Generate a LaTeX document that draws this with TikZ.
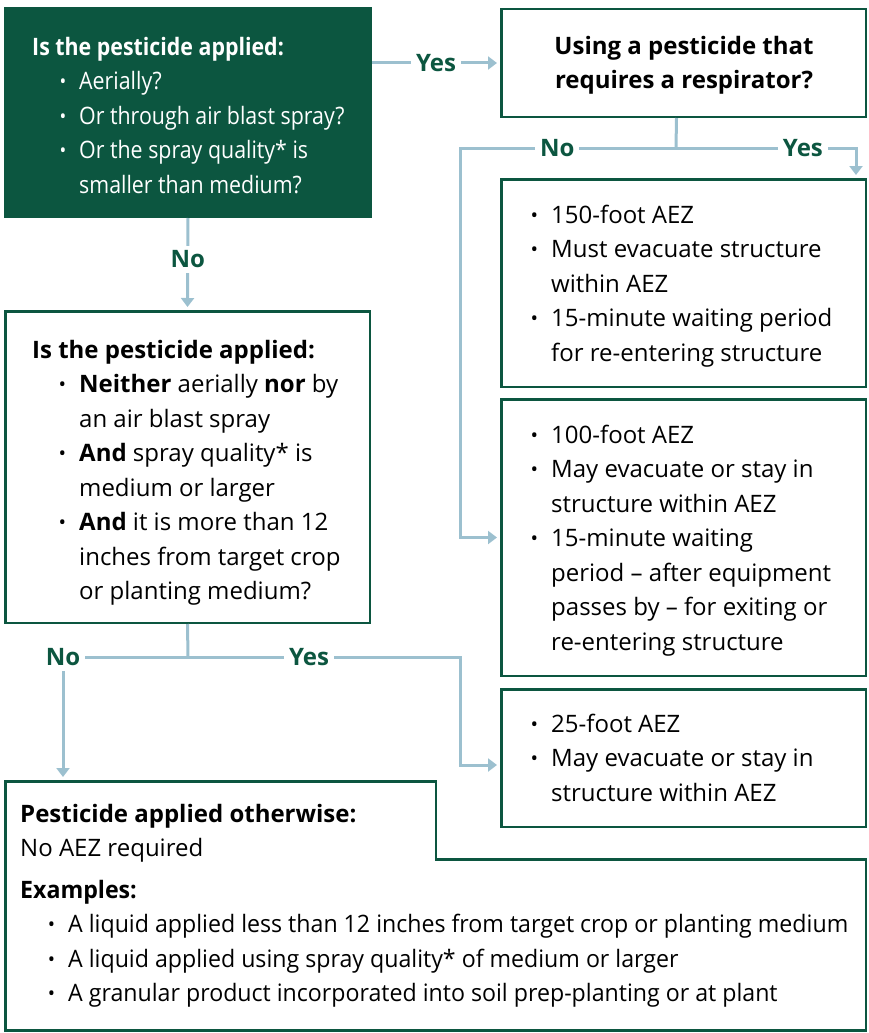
\documentclass[tikz,border=0pt]{standalone}
\usepackage{fontspec}
\setmainfont{Open Sans}
\newfontfamily\condfont{Open Sans}[FakeStretch=0.89]
\newfontfamily\semicond{Open Sans}[FakeStretch=0.965]
\usetikzlibrary{arrows.meta}
\definecolor{dg}{HTML}{0C5640}
\definecolor{lb}{HTML}{9CC0CF}
\newcommand{\bdot}{\llap{{\fontsize{20}{20}\selectfont\raisebox{1pt}{•}}\hspace{13pt}}}
\newcommand{\fst}{\rule{0pt}{22pt}}
\begin{document}
\begin{tikzpicture}[x=1pt,y=-1pt,
  box/.style={draw=dg, line width=2.5pt, inner sep=0pt, anchor=north west, minimum width=364.5pt},
  txt/.style={anchor=north west, inner sep=0pt, align=left, font=\fontsize{24}{34.5}\selectfont},
  conn/.style={draw=lb, line width=3pt},
  arr/.style={conn, -{Triangle[width=13pt,length=9pt]}, shorten >=3pt},
  lab/.style={fill=white, text=dg, font=\bfseries\fontsize{24}{26}\selectfont, inner sep=5pt}]
\useasboundingbox (0,0) rectangle (869,1033);

% boxes
\node[box, fill=dg, minimum width=365.5pt, minimum height=208.5pt] (q1) at (4,7) {};
\node[box, minimum height=107.5pt] (resp) at (500,8) {};
\node[box, minimum height=207.5pt] (b150) at (500,178) {};
\node[box, minimum height=276.5pt] (b100) at (500,398) {};
\node[box, minimum height=137.5pt] (b25) at (500,688) {};
\node[box, minimum height=311.5pt] (b2) at (4,310) {};
\draw[dg, line width=2.5pt] (5.25,781.25) -- (435.75,781.25) -- (435.75,859.25) -- (865.75,859.25) -- (865.75,1030.25) -- (5.25,1030.25) -- cycle;
\coordinate (bt) at (63,780);

% texts
\node[txt, text=white, font=\condfont\fontsize{24}{34.5}\selectfont] (q1t) at (32,33) {\fst\textbf{Is the pesticide applied:}\\
\hspace*{47pt}\bdot Aerially?\\
\hspace*{47pt}\bdot Or through air blast spray?\\
\hspace*{47pt}\bdot Or the spray quality* is\\
\hspace*{47pt}smaller than medium?};

\node[anchor=north, inner sep=0pt, align=center, font=\bfseries\fontsize{24}{34}\selectfont] (respt) at (684,32) {\fst Using a pesticide that\\ requires a respirator?};

\node[txt] (b150t) at (551,201) {\fst\bdot 150-foot AEZ\\
\bdot Must evacuate structure\\
within AEZ\\
\bdot 15-minute waiting period\\
for re-entering structure};

\node[txt] (b100t) at (551,421) {\fst\bdot 100-foot AEZ\\
\bdot May evacuate or stay in\\
structure within AEZ\\
\bdot 15-minute waiting\\
period -- after equipment\\
passes by -- for exiting or\\
re-entering structure};

\node[txt] (b25t) at (551,710) {\fst\bdot 25-foot AEZ\\
\bdot May evacuate or stay in\\
structure within AEZ};

\node[txt] (b2t) at (32,336) {\fst\textbf{Is the pesticide applied:}\\
\hspace*{47pt}\bdot \textbf{Neither} aerially \textbf{nor} by\\
\hspace*{47pt}an air blast spray\\
\hspace*{47pt}\bdot \textbf{And} spray quality* is\\
\hspace*{47pt}medium or larger\\
\hspace*{47pt}\bdot \textbf{And} it is more than 12\\
\hspace*{47pt}inches from target crop\\
\hspace*{47pt}or planting medium?};

\node[txt, font=\fontsize{24}{34}\selectfont] (bot1) at (20,800) {\fst\textbf{Pesticide applied otherwise:}\\
No AEZ required};

\node[txt, font=\semicond\fontsize{24}{34.5}\selectfont] (bot2) at (20,876) {\fst\textbf{Examples:}\\
\hspace*{48pt}\bdot A liquid applied less than 12 inches from target crop or planting medium\\
\hspace*{48pt}\bdot A liquid applied using spray quality* of medium or larger\\
\hspace*{48pt}\bdot A granular product incorporated into soil prep-planting or at plant};

% connectors
\draw[arr] (q1.east |- resp.west) -- node[lab]{Yes} (resp.west);
\draw[arr] (q1.south) -- node[lab, pos=0.45]{No} (b2.north);

\coordinate (j1) at (676,148);
\coordinate (j1l) at (460,148);
\coordinate (j1r) at (856,148);
\draw[conn] ([xshift=-7pt]resp.south) -- (j1);
\draw[arr] (j1) -- node[lab, pos=0.55]{No} (j1l) |- (b100.west);
\draw[arr] (j1) -- node[lab, pos=0.705]{Yes} (j1r) -- (j1r |- b150.north);

\coordinate (j2) at (188,657);
\coordinate (j2l) at (63,657);
\coordinate (j2r) at (460,657);
\draw[conn] (b2.south) -- (j2);
\draw[arr] (j2) -- (j2l) -- (bt);
\node[lab] (nol) at (j2l) {No};
\draw[arr] (j2) -- node[lab, pos=0.445]{Yes} (j2r) |- ([yshift=-7pt]b25.west);
\end{tikzpicture}
\end{document}
